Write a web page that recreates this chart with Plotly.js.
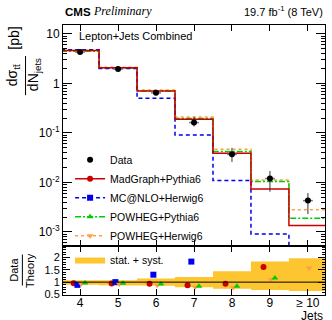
<!DOCTYPE html>
<html>
<head>
<meta charset="utf-8">
<script src="https://cdn.plot.ly/plotly-3.0.1.min.js"></script>
<style>
  html, body { margin: 0; padding: 0; background: #fff; }
  #chart { width: 332px; height: 320px; }
</style>
</head>
<body>
<div id="chart"></div>
<script>
// jet multiplicity bins
const jets = [4, 5, 6, 7, 8, 9, 10];
const jetLabels = ['4', '5', '6', '7', '8', '9', '≥ 10'];

// measured cross section [pb] and its uncertainties
const data = [4.3, 1.96, 0.645, 0.162, 0.037, 0.012, 0.0043];
const dataErrUp = [0.25, 0.1, 0.05, 0.05, 0.013, 0.005, 0.0018];
const dataErrDown = [0.25, 0.1, 0.05, 0.027, 0.011, 0.0055, 0.002];

// predictions [pb]
const madgraph = [4.6, 2.08, 0.70, 0.19, 0.039, 0.0074, 0.00135];
const mcatnlo = [4.8, 2.0, 0.5, 0.091, 0.011, 0.00091, 0.00001];
const powhegPythia = [4.45, 2.05, 0.70, 0.195, 0.042, 0.0105, 0.0019];
const powhegHerwig = [4.6, 2.12, 0.74, 0.21, 0.047, 0.0112, 0.0028];

// data / theory
const ratioMadgraph = [0.96, 0.94, 0.93, 0.87, 0.93, 1.61, 3.2];
const ratioMcatnlo = [0.89, 1.0, 1.30, 1.83, 3.4, 13, null];
const ratioPowhegPythia = [0.97, 0.96, 0.92, 0.83, 0.83, 1.17, 2.6];
const ratioPowhegHerwig = [0.93, 0.92, 0.87, 0.79, 0.78, 1.11, 1.57];

// stat. + syst. band on the ratio
const bandUp = [1.08, 1.08, 1.15, 1.21, 1.44, 1.83, 1.97];
const bandDown = [0.89, 0.875, 0.85, 0.79, 0.73, 0.68, 0.64];

const FONT = 'Liberation Sans, Arial, Helvetica, sans-serif';
const cRed = '#cc0000', cBlue = '#0000ee', cGreen = '#00cc00', cOrange = '#ffa040';
const dashBlue = '4px,3px', dashGreen = '6px,2px,2px,2px';

const edges = jets.map(j => j - 0.5).concat([jets[jets.length - 1] + 0.5]);

function step(vals, name, color, dash, width) {
  return {
    type: 'scatter', mode: 'lines', name: name, showlegend: false,
    x: edges, y: vals.concat([vals[vals.length - 1]]),
    line: { shape: 'hv', color: color, dash: dash, width: width },
    xaxis: 'x', yaxis: 'y', hoverinfo: 'skip'
  };
}

function legendEntry(name, color, dash, symbol) {
  return {
    type: 'scatter', mode: 'lines+markers', name: name,
    x: [null], y: [null],
    line: { color: color, dash: dash, width: 1.5 },
    marker: { color: color, symbol: symbol, size: 6 },
    xaxis: 'x', yaxis: 'y', legend: 'legend'
  };
}

function ratio(vals, offset, color, symbol) {
  return {
    type: 'scatter', mode: 'markers', showlegend: false,
    x: jets.map(j => j + offset), y: vals,
    marker: { color: color, symbol: symbol, size: 6 },
    xaxis: 'x2', yaxis: 'y2', cliponaxis: true
  };
}

// band polygon built from the step edges
const bandX = [], bandY = [];
jets.forEach((j, i) => { bandX.push(edges[i], edges[i + 1]); bandY.push(bandUp[i], bandUp[i]); });
for (let i = jets.length - 1; i >= 0; i--) { bandX.push(edges[i + 1], edges[i]); bandY.push(bandDown[i], bandDown[i]); }

const traces = [
  {
    type: 'scatter', mode: 'lines', fill: 'toself', name: 'stat. + syst.',
    x: bandX, y: bandY, fillcolor: '#fdc630', line: { width: 0, color: '#fdc630' },
    xaxis: 'x2', yaxis: 'y2', legend: 'legend2', hoverinfo: 'skip'
  },
  step(powhegHerwig, 'POWHEG+Herwig6', cOrange, 'dot', 1.5),
  step(powhegPythia, 'POWHEG+Pythia6', cGreen, dashGreen, 1.5),
  step(mcatnlo, 'MC@NLO+Herwig6', cBlue, dashBlue, 1.5),
  step(madgraph, 'MadGraph+Pythia6', cRed, 'solid', 1.5),
  {
    type: 'scatter', mode: 'markers', name: 'Data',
    x: jets, y: data,
    error_y: { type: 'data', symmetric: false, array: dataErrUp, arrayminus: dataErrDown, color: '#333', thickness: 1, width: 0 },
    error_x: { type: 'constant', value: 0.13, color: '#777', thickness: 1.5, width: 0 },
    marker: { color: '#000', symbol: 'circle', size: 6 },
    xaxis: 'x', yaxis: 'y', legend: 'legend'
  },
  legendEntry('MadGraph+Pythia6', cRed, 'solid', 'circle'),
  legendEntry('MC@NLO+Herwig6', cBlue, dashBlue, 'square'),
  legendEntry('POWHEG+Pythia6', cGreen, dashGreen, 'triangle-up'),
  legendEntry('POWHEG+Herwig6', cOrange, 'dot', 'triangle-down'),
  ratio(ratioMadgraph, -0.17, cRed, 'circle'),
  ratio(ratioMcatnlo, -0.07, cBlue, 'square'),
  ratio(ratioPowhegHerwig, 0.03, cOrange, 'triangle-down'),
  ratio(ratioPowhegPythia, 0.13, cGreen, 'triangle-up')
];

const minorLog = [];
[0.0001, 0.001, 0.01, 0.1, 1, 10].forEach(d => { for (let k = 2; k <= 9; k++) minorLog.push(d * k); });

const axisCommon = {
  showline: true, linecolor: '#000', linewidth: 1, mirror: 'allticks',
  ticks: 'inside', tickcolor: '#000', tickwidth: 1, showgrid: false, zeroline: false,
  tickfont: { family: FONT, size: 12, color: '#000' }
};

const layout = {
  width: 332, height: 320,
  margin: { l: 63, r: 7, t: 25, b: 25 },
  paper_bgcolor: '#fff', plot_bgcolor: 'rgba(0,0,0,0)',
  font: { family: FONT, size: 11, color: '#000' },
  xaxis: Object.assign({}, axisCommon, {
    domain: [0, 1], anchor: 'y', range: [3.55, 10.45],
    tickmode: 'array', tickvals: jets, showticklabels: false, ticklen: 6
  }),
  yaxis: Object.assign({}, axisCommon, {
    domain: [0.1815, 1], anchor: 'x', type: 'log', range: [-3.283, 1.18],
    tickmode: 'array', tickvals: [0.001, 0.01, 0.1, 1, 10],
    ticktext: ['10<sup>-3</sup>', '10<sup>-2</sup>', '10<sup>-1</sup>', '1', '10'],
    ticklen: 9,
    minor: { tickmode: 'array', tickvals: minorLog, ticks: 'inside', ticklen: 4, tickcolor: '#000' }
  }),
  xaxis2: Object.assign({}, axisCommon, {
    domain: [0, 1], anchor: 'y2', range: [3.55, 10.45], matches: 'x',
    tickmode: 'array', tickvals: jets, ticktext: jetLabels, ticklen: 6,
    ticklabelstandoff: -3
  }),
  yaxis2: Object.assign({}, axisCommon, {
    domain: [0, 0.1815], anchor: 'x2', range: [0.48, 2.46],
    tickmode: 'array', tickvals: [0.5, 1, 1.5, 2], ticktext: ['0.5', '1', '1.5', '2'],
    ticklen: 7, tickfont: { family: FONT, size: 11, color: '#000' },
    minor: { dtick: 0.1, ticks: 'inside', ticklen: 3, tickcolor: '#000' }
  }),
  legend: {
    x: 0.027, y: 0.555, xanchor: 'left', yanchor: 'top',
    bgcolor: 'rgba(0,0,0,0)', borderwidth: 0,
    font: { family: FONT, size: 10.5, color: '#000' },
    traceorder: 'normal', tracegroupgap: 0
  },
  legend2: {
    x: 0.027, y: 0.185, xanchor: 'left', yanchor: 'top',
    bgcolor: 'rgba(0,0,0,0)', borderwidth: 0,
    font: { family: FONT, size: 10.5, color: '#000' }
  },
  shapes: [
    { type: 'line', xref: 'x2 domain', yref: 'y2', x0: 0, x1: 1, y0: 1, y1: 1, line: { color: '#000', width: 1 } },
    { type: 'line', xref: 'paper', yref: 'paper', x0: -0.143, x1: -0.143, y0: 0.74, y1: 0.885, line: { color: '#000', width: 1 } },
    { type: 'line', xref: 'paper', yref: 'paper', x0: -0.155, x1: -0.155, y0: 0.035, y1: 0.15, line: { color: '#000', width: 1 } }
  ],
  annotations: [
    { xref: 'paper', yref: 'paper', x: 0, y: 1.02, xanchor: 'left', yanchor: 'bottom', showarrow: false,
      text: '<b>CMS</b>', font: { family: FONT, size: 11.5 } },
    { xref: 'paper', yref: 'paper', x: 0.105, y: 1.017, xanchor: 'left', yanchor: 'bottom', showarrow: false,
      text: '<i>Preliminary</i>', font: { family: 'Liberation Serif, Times New Roman, serif', size: 12 } },
    { xref: 'paper', yref: 'paper', x: 1, y: 1.02, xanchor: 'right', yanchor: 'bottom', showarrow: false,
      text: '19.7 fb<sup>-1</sup> (8 TeV)', font: { family: FONT, size: 11 } },
    { xref: 'paper', yref: 'paper', x: 0.055, y: 0.96, xanchor: 'left', yanchor: 'middle', showarrow: false,
      text: 'Lepton+Jets Combined', font: { family: FONT, size: 11 } },
    { xref: 'paper', yref: 'paper', x: 1, y: -0.077, xanchor: 'right', yanchor: 'middle', showarrow: false,
      text: 'Jets', font: { family: FONT, size: 12 } },
    // y title of the top panel: fraction
    { xref: 'paper', yref: 'paper', x: -0.19, y: 0.815, xanchor: 'center', yanchor: 'middle', showarrow: false,
      textangle: -90, text: 'dσ<sub>tt̄</sub>', font: { family: FONT, size: 14 } },
    { xref: 'paper', yref: 'paper', x: -0.11, y: 0.815, xanchor: 'center', yanchor: 'middle', showarrow: false,
      textangle: -90, text: 'dN<sub>jets</sub>', font: { family: FONT, size: 14 } },
    { xref: 'paper', yref: 'paper', x: -0.19, y: 0.95, xanchor: 'center', yanchor: 'middle', showarrow: false,
      textangle: -90, text: '[pb]', font: { family: FONT, size: 14 } },
    // y title of the ratio panel
    { xref: 'paper', yref: 'paper', x: -0.185, y: 0.092, xanchor: 'center', yanchor: 'middle', showarrow: false,
      textangle: -90, text: 'Data', font: { family: FONT, size: 11 } },
    { xref: 'paper', yref: 'paper', x: -0.127, y: 0.092, xanchor: 'center', yanchor: 'middle', showarrow: false,
      textangle: -90, text: 'Theory', font: { family: FONT, size: 11 } }
  ]
};

Plotly.newPlot('chart', traces, layout, { staticPlot: true, displayModeBar: false });
</script>
</body>
</html>
